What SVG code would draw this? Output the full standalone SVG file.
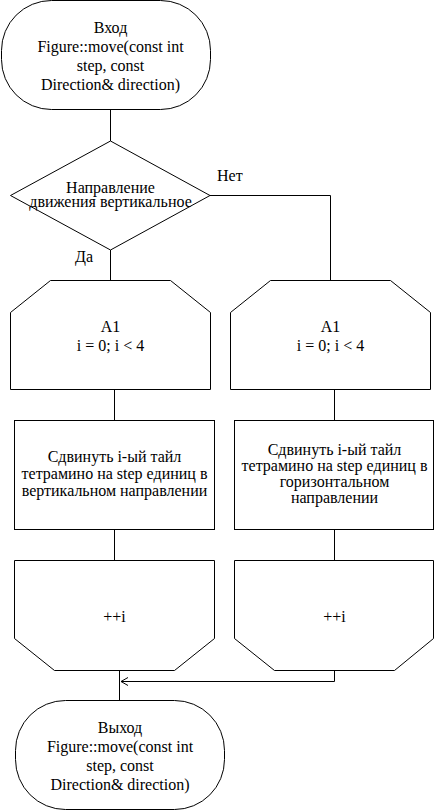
<svg xmlns="http://www.w3.org/2000/svg" width="435" height="811" viewBox="0 0 435 811">
<style>
.s{fill:#fff;stroke:#000;stroke-width:1}
.c{fill:none;stroke:#000;stroke-width:1}
</style>
<defs>
<marker id="ar" markerWidth="10" markerHeight="10" refX="8" refY="5" orient="auto" markerUnits="userSpaceOnUse">
<path d="M1,1 L8,5 L1,9" fill="none" stroke="#000" stroke-width="1"/>
</marker>
</defs>
<g id="connectors">
<path class="c" d="M110.5,110 V141"/>
<path class="c" d="M110.5,250 V280"/>
<path class="c" d="M210,195.5 H330.5 V280"/>
<path class="c" d="M114.5,390 V420"/>
<path class="c" d="M334.5,390 V420"/>
<path class="c" d="M114.5,530 V560"/>
<path class="c" d="M334.5,530 V560"/>
<path class="c" d="M119.5,670 V700"/>
<path class="c" d="M334.5,670 V681.5 H121" marker-end="url(#ar)"/>
<text x="217" y="181" font-family="Liberation Serif" font-size="16">Нет</text>
<text x="75" y="262" font-family="Liberation Serif" font-size="16">Да</text>
</g>
<g id="start">
<rect class="s" x="1.5" y="0.5" width="209" height="109" rx="50" ry="50"/>
<text x="110.5" y="33" font-family="Liberation Serif" font-size="16" text-anchor="middle">Вход</text>
<text x="110.5" y="52" font-family="Liberation Serif" font-size="16" text-anchor="middle">Figure::move(const int</text>
<text x="110.5" y="71" font-family="Liberation Serif" font-size="16" text-anchor="middle">step, const</text>
<text x="110.5" y="90" font-family="Liberation Serif" font-size="16" text-anchor="middle">Direction&amp; direction)</text>
</g>
<g id="decision">
<path class="s" d="M110.5,141 L210,195.5 L110.5,250 L10.5,195.5 Z"/>
<text x="110.5" y="193" font-family="Liberation Serif" font-size="16" text-anchor="middle">Направление</text>
<text x="110.5" y="207" font-family="Liberation Serif" font-size="16" text-anchor="middle">движения вертикальное</text>
</g>
<g id="loopL">
<path class="s" d="M50.5,280.5 H170.5 L210.5,312.5 V389.5 H10.5 V312.5 Z"/>
<text x="110.5" y="332" font-family="Liberation Serif" font-size="16" text-anchor="middle">A1</text>
<text x="110.5" y="351" font-family="Liberation Serif" font-size="16" text-anchor="middle">i = 0; i &lt; 4</text>
</g>
<g id="loopR">
<path class="s" d="M270.5,280.5 H390.5 L430.5,312.5 V389.5 H230.5 V312.5 Z"/>
<text x="330.5" y="332" font-family="Liberation Serif" font-size="16" text-anchor="middle">A1</text>
<text x="330.5" y="351" font-family="Liberation Serif" font-size="16" text-anchor="middle">i = 0; i &lt; 4</text>
</g>
<g id="procL">
<rect class="s" x="14.5" y="420.5" width="200" height="109"/>
<text x="114.5" y="462" font-family="Liberation Serif" font-size="16" text-anchor="middle">Сдвинуть i-ый тайл</text>
<text x="114.5" y="479" font-family="Liberation Serif" font-size="16" text-anchor="middle">тетрамино на step единиц в</text>
<text x="114.5" y="496" font-family="Liberation Serif" font-size="16" text-anchor="middle">вертикальном направлении</text>
</g>
<g id="procR">
<rect class="s" x="234.5" y="420.5" width="199" height="109"/>
<text x="334.5" y="455" font-family="Liberation Serif" font-size="16" text-anchor="middle">Сдвинуть i-ый тайл</text>
<text x="334.5" y="471" font-family="Liberation Serif" font-size="16" text-anchor="middle">тетрамино на step единиц в</text>
<text x="334.5" y="487" font-family="Liberation Serif" font-size="16" text-anchor="middle">горизонтальном</text>
<text x="334.5" y="503" font-family="Liberation Serif" font-size="16" text-anchor="middle">направлении</text>
</g>
<g id="endL">
<path class="s" d="M14.5,560.5 H214.5 V638.5 L174.5,670.5 H54.5 L14.5,638.5 Z"/>
<text x="114.5" y="622" font-family="Liberation Serif" font-size="16" text-anchor="middle">++i</text>
</g>
<g id="endR">
<path class="s" d="M234.5,560.5 H433.5 V638.5 L394.5,670.5 H274.5 L234.5,638.5 Z"/>
<text x="334.5" y="622" font-family="Liberation Serif" font-size="16" text-anchor="middle">++i</text>
</g>
<g id="exit">
<rect class="s" x="15.5" y="700.5" width="209" height="109" rx="50" ry="50"/>
<text x="120" y="733" font-family="Liberation Serif" font-size="16" text-anchor="middle">Выход</text>
<text x="120" y="752" font-family="Liberation Serif" font-size="16" text-anchor="middle">Figure::move(const int</text>
<text x="120" y="771" font-family="Liberation Serif" font-size="16" text-anchor="middle">step, const</text>
<text x="120" y="790" font-family="Liberation Serif" font-size="16" text-anchor="middle">Direction&amp; direction)</text>
</g>
</svg>
